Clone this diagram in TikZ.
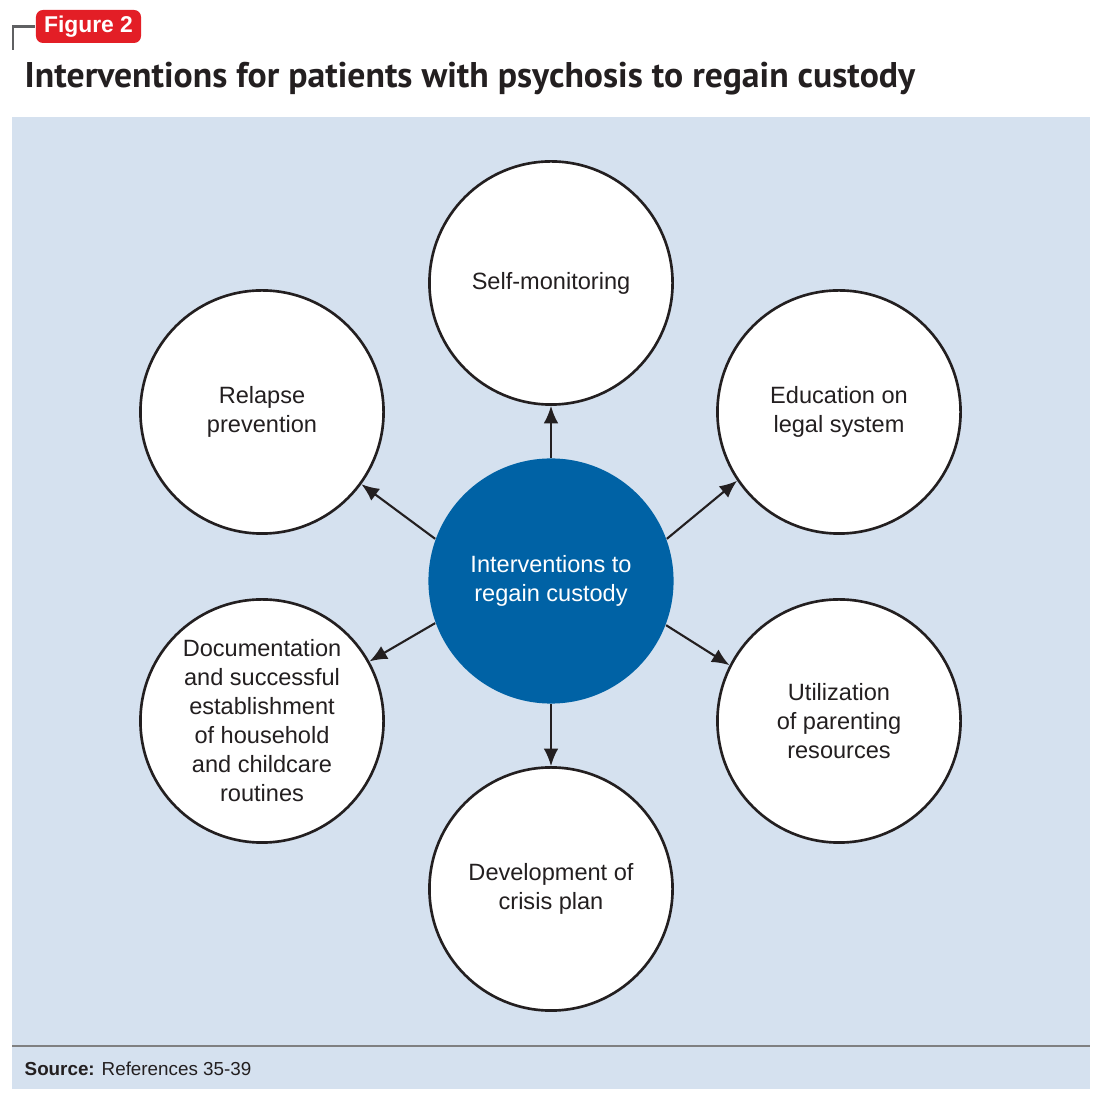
\documentclass[tikz,border=0pt]{standalone}
\usepackage{fontspec}
\setmainfont{Liberation Sans}
\newfontfamily\headfont{PT Sans}
\usetikzlibrary{arrows.meta,positioning}
\definecolor{panelblue}{HTML}{D5E1EF}
\definecolor{hubblue}{HTML}{0062A5}
\definecolor{figred}{HTML}{E31E26}
\definecolor{inkgray}{HTML}{231F20}
\definecolor{rulegray}{HTML}{5F6062}

\begin{document}
\begin{tikzpicture}[
    x=0.01cm, y=-0.01cm,
    ring/.style={circle, draw=inkgray, line width=0.75pt, fill=white, minimum size=2.43cm, inner sep=0pt, align=center, text=inkgray, font=\fontsize{6.7}{8.25}\selectfont},
    hub/.style={circle, fill=hubblue, minimum size=2.45cm, inner sep=0pt, align=center, text=white, font=\fontsize{6.7}{8.25}\selectfont},
    link/.style={-{Latex[length=5pt,width=4.2pt]}, line width=0.6pt, draw=inkgray}
]
    \useasboundingbox (0,0) rectangle (1100,1098);

    \node [fill=figred, rounded corners=2pt, text=white, inner sep=0pt, minimum width=1.05cm, minimum height=0.33cm, font=\bfseries\fontsize{6.5}{7}\selectfont] (tag) at (88.5,26.5) {Figure 2};
    \coordinate (corner) at (13,50);
    \draw [rulegray, line width=0.7pt] (corner) |- (tag.west);

    \node [anchor=base west, inner sep=0pt, text=inkgray, font=\headfont\bfseries\fontsize{10.15}{12}\selectfont] (title) at (24,88) {Interventions for patients with psychosis to regain custody};

    \fill [panelblue] (12,117) rectangle (1090,1089);
    \draw [rulegray!80, line width=0.45pt] (12,1046) -- (1090,1046);

    \node [hub] (hub) at (551,581) {Interventions to\\regain custody};

    \node [ring] (selfmon) at (551,283) {Self-monitoring};
    \node [ring] (relapse) at (262,412) {Relapse\\prevention};
    \node [ring] (legal) at (839,412) {Education on\\legal system};
    \node [ring] (routines) at (262,721) {Documentation\\and successful\\establishment\\of household\\and childcare\\routines};
    \node [ring] (parenting) at (839,721) {Utilization\\of parenting\\resources};
    \node [ring] (crisis) at (551,889) {Development of\\crisis plan};

    \draw [link] (hub.90) -- (selfmon.-90);
    \draw [link] (hub.160) -- (relapse.-36);
    \draw [link] (hub.20) -- (legal.-146);
    \draw [link] (hub.200) -- (routines.29);
    \draw [link] (hub.-21) -- (parenting.153);
    \draw [link] (hub.-90) -- (crisis.90);

    \node [anchor=base west, inner sep=0pt, text=inkgray, font=\fontsize{5.35}{6}\selectfont] (source) at (24,1075) {\textbf{Source:} References 35-39};
\end{tikzpicture}
\end{document}
